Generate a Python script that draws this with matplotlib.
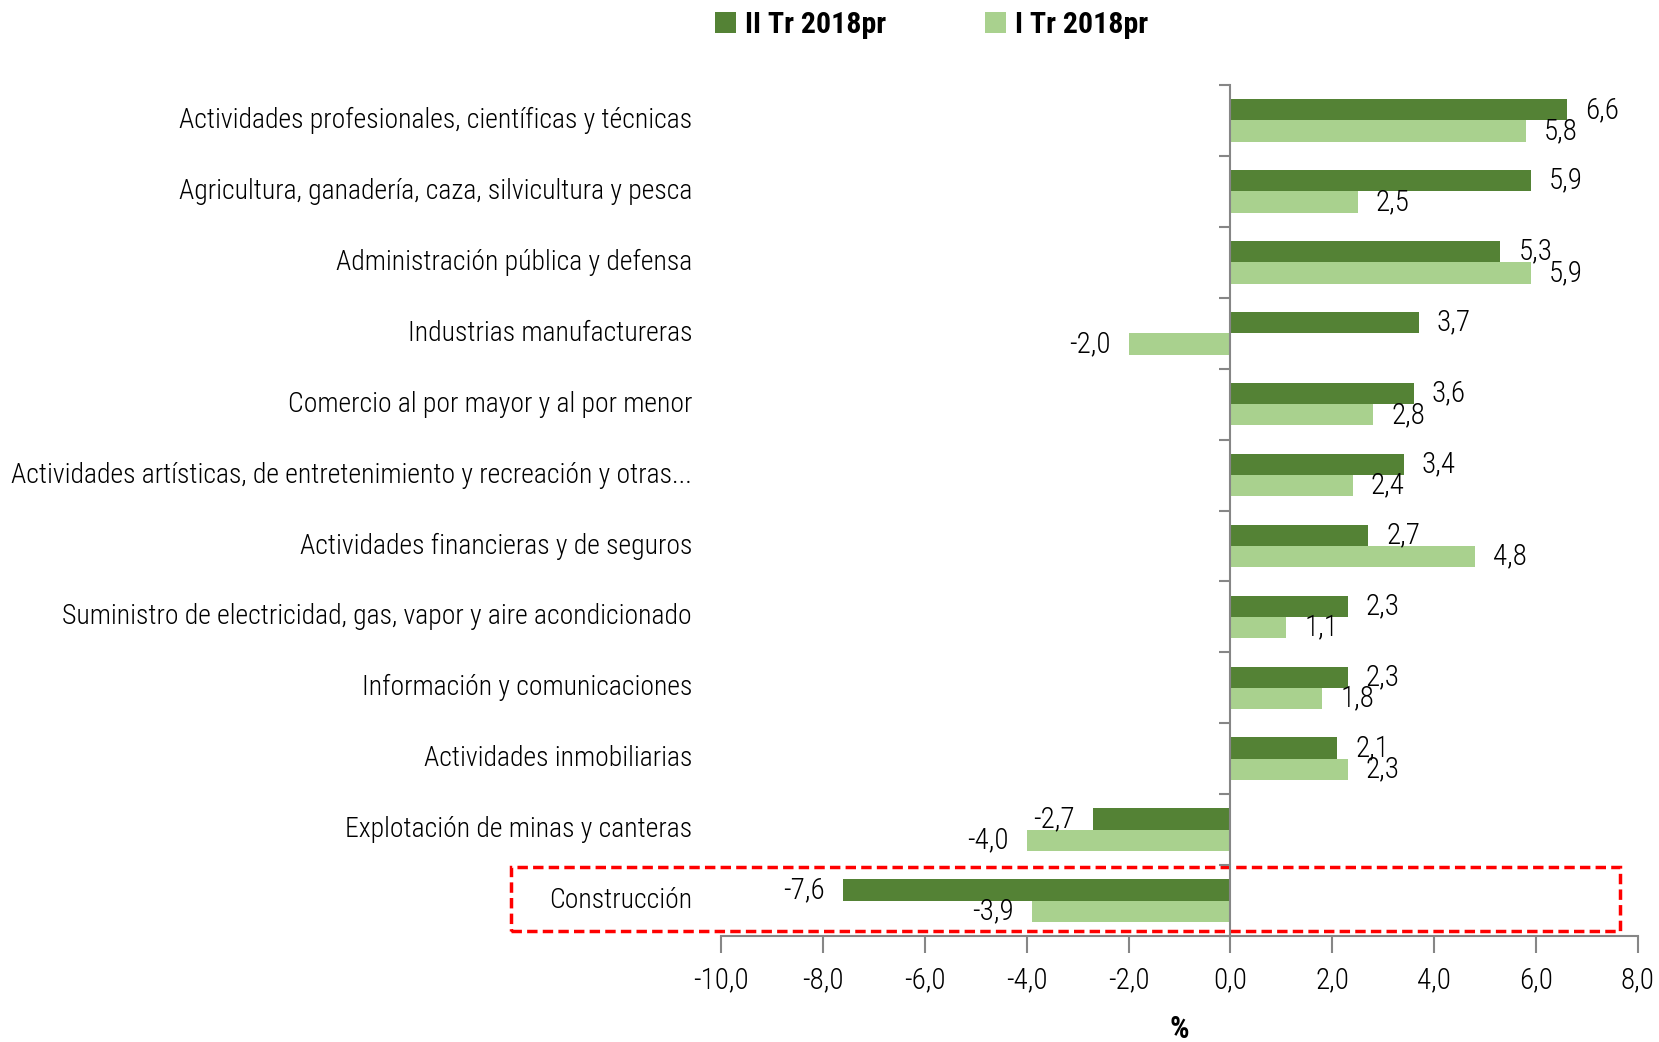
import matplotlib.pyplot as plt
import numpy as np
from matplotlib import font_manager
from matplotlib.patches import Rectangle

# pick a narrow font if one is around
names = set(f.name for f in font_manager.fontManager.ttflist)
fam = ['DejaVu Sans']
for c in ['Roboto Condensed', 'Liberation Sans Narrow', 'Open Sans Condensed']:
    if c in names:
        fam = [c, 'DejaVu Sans']
        break
plt.rcParams['font.family'] = fam
plt.rcParams['font.stretch'] = 'condensed'
plt.rcParams['font.weight'] = 'light'

# sectors, listed top to bottom as in the chart
sectors = [
    'Actividades profesionales, científicas y técnicas',
    'Agricultura, ganadería, caza, silvicultura y pesca',
    'Administración pública y defensa',
    'Industrias manufactureras',
    'Comercio al por mayor y al por menor',
    'Actividades artísticas, de entretenimiento y recreación y otras...',
    'Actividades financieras y de seguros',
    'Suministro de electricidad, gas, vapor y aire acondicionado',
    'Información y comunicaciones',
    'Actividades inmobiliarias',
    'Explotación de minas y canteras',
    'Construcción',
]
q2_2018 = [6.6, 5.9, 5.3, 3.7, 3.6, 3.4, 2.7, 2.3, 2.3, 2.1, -2.7, -7.6]
q1_2018 = [5.8, 2.5, 5.9, -2.0, 2.8, 2.4, 4.8, 1.1, 1.8, 2.3, -4.0, -3.9]
series_names = ['II Tr 2018pr', 'I Tr 2018pr']
xticks = np.arange(-10, 9, 2)

dark = '#548235'
light = '#A9D18E'
grey = '#868686'

def fmt(v):
    return f'{v:.1f}'.replace('.', ',')

fig = plt.figure(figsize=(16.59, 10.42), dpi=100)
ax = fig.add_axes([0.4346, 0.1017, 0.5527, 0.8167])

n = len(sectors)
y = np.arange(n)[::-1]  # first sector on top
h = 0.3

b1 = ax.barh(y + h / 2, q2_2018, height=h, color=dark, label=series_names[0])
b2 = ax.barh(y - h / 2, q1_2018, height=h, color=light, label=series_names[1])

ax.bar_label(b1, labels=[fmt(v) for v in q2_2018], padding=13, fontsize=21)
ax.bar_label(b2, labels=[fmt(v) for v in q1_2018], padding=13, fontsize=21)

ax.set_xlim(-10, 8)
ax.set_ylim(-0.5, n - 0.5)

# spines: y axis on zero, x axis at bottom
for s in ['top', 'right']:
    ax.spines[s].set_visible(False)
ax.spines['left'].set_position(('data', 0))
ax.spines['left'].set_color(grey)
ax.spines['bottom'].set_color(grey)
ax.spines['left'].set_linewidth(1.5)
ax.spines['bottom'].set_linewidth(1.5)

ax.set_xticks(xticks)
ax.set_xticklabels([fmt(v) for v in xticks], fontsize=21)
ax.tick_params(axis='x', direction='out', length=12, width=1.5, color=grey, pad=10)

ax.set_yticks(np.arange(-0.5, n, 1))
ax.set_yticklabels([])
ax.tick_params(axis='y', direction='out', length=8, width=1.5, color=grey)

# category labels, right aligned left of the plot
for yi, name in zip(y, sectors):
    ax.text(-0.0316, yi, name, transform=ax.get_yaxis_transform(),
            ha='right', va='center', fontsize=20)

ax.set_xlabel('%', fontsize=22, fontweight='bold', labelpad=14)

# highlight box around Construcción
box = Rectangle((-14.13, -0.43), 21.77, 0.91, fill=False, edgecolor='#FF0000',
                linestyle=(0, (3, 1.5)), linewidth=2.5, clip_on=False)
ax.add_patch(box)

fig.legend(handles=[b1, b2], labels=series_names, loc='center',
           bbox_to_anchor=(0.5615, 0.976), ncol=2, frameon=False,
           prop={'size': 21.5, 'weight': 'bold'}, handlelength=0.7,
           handleheight=0.7, handletextpad=0.3, columnspacing=3.3)

fig.savefig('out.png', dpi=100)
